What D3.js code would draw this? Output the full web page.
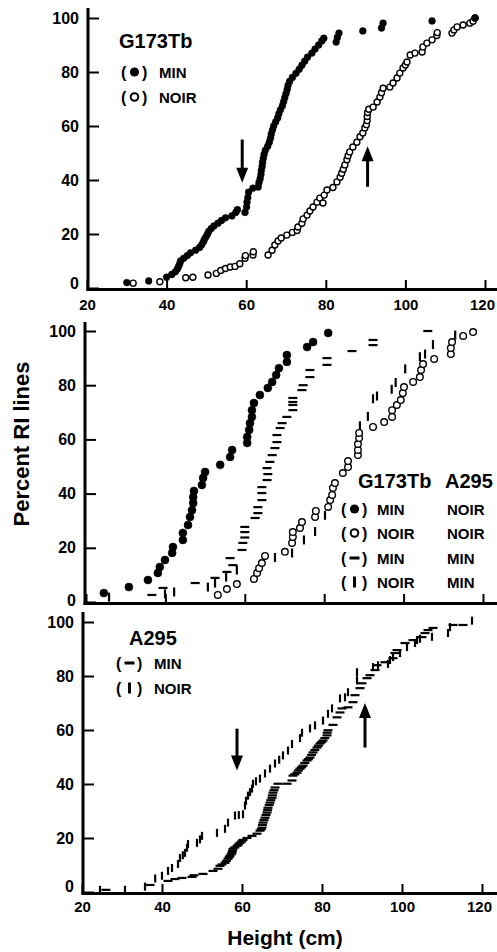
<!DOCTYPE html>
<html>
<head>
<meta charset="utf-8">
<script src="https://cdn.jsdelivr.net/npm/d3@7"></script>
<style>
  body { margin: 0; background: #fff; }
  text { font-family: "Liberation Sans", Arial, Helvetica, sans-serif; font-weight: bold; fill: #000; }
</style>
</head>
<body>
<script>
// tick values
var xTicks = [20, 40, 60, 80, 100, 120];
var yTicks = [0, 20, 40, 60, 80, 100];

// top panel: G173Tb, [height cm, percent RI lines]
var p1Min = [[30,2],[35.5,2.6],[40,4],[41.3,5],[42.2,6],[42.7,7],[43,8],[43.3,9],[43.5,10],[44.3,11],[45.2,12],[46,13],[47.3,14],[48.3,15],[48.8,16],[49.2,17],[49.5,18],[49.9,19],[50.3,20],[50.6,21],[51.2,22],[51.9,23],[52.9,24],[53.8,25],[54.8,26],[56.4,26.7],[57.4,28],[57.8,29],[59.7,28],[60.1,30],[60.2,31.8],[60.4,33.5],[60.6,35.5],[61.7,37],[63,37.4],[63.2,39],[63.5,40.5],[63.7,42],[63.8,43.5],[64,45],[64.1,46.5],[64.3,48],[64.5,49.5],[64.8,51],[65.4,52.5],[65.8,54],[66.1,55.5],[66.3,57],[66.6,58.5],[66.9,60],[67.4,61.5],[67.9,63],[68.2,64.5],[68.6,66],[69.1,67.5],[69.4,69],[69.7,70.5],[70,72],[70.3,73.5],[70.5,75],[70.9,76.5],[71.6,78],[72.5,79.5],[73.3,81],[74,82.5],[74.7,84],[75.4,85.5],[76.5,87],[77.3,88.5],[78.2,90],[79,91.5],[79.5,92.5],[82.6,91.1],[82.9,92.8],[83.3,94.4],[89.3,95.2],[94,96.3],[94.4,98.1],[106.7,98.9],[117.5,100]];
var p1Noir = [[31.6,1.8],[38.3,2.3],[44.8,3.8],[46.6,4],[50.4,4.8],[52.5,5.4],[53.6,6.5],[54.8,7.2],[56,7.8],[57.2,8],[58.4,9],[59.7,11],[59.8,12],[61.7,12.2],[61.8,13.4],[65.5,12.2],[66.5,14],[67.2,15.9],[68,17.4],[68.8,18.5],[70.2,19.6],[71.6,20.6],[72.8,21.3],[73,22.6],[74,24],[74.3,25.6],[75.3,27],[76,28.5],[76.8,30],[77.8,31.8],[78.5,33.3],[79.3,31.5],[79.6,34.4],[80.3,36.3],[81.8,37.2],[82.8,39.3],[83.6,41],[84,42.5],[84.4,44],[84.8,45.6],[85.3,47.5],[85.6,49],[86,50.4],[86.8,52.2],[87.8,54],[88.6,56],[89.3,57.4],[89.8,59.3],[90.2,60.5],[90.4,62],[90.4,63.5],[90.5,65],[90.8,66.2],[91.9,67],[92.9,68.9],[93.6,70.7],[94,72.3],[94.4,74],[96.1,74.4],[96.9,75.9],[97.9,77.8],[98.6,79.6],[99.4,81.5],[100,82.6],[100.4,83.7],[101.2,86.3],[102.4,87],[104.2,87.4],[104.4,89.3],[105.4,90.7],[106.7,91.9],[107.9,93.5],[108,94.6],[111.7,94.4],[112.2,95.6],[113,96.7],[114.5,97.4],[116.2,98.1],[117,98.8],[117.5,100]];

// middle panel: genotype at G173Tb / A295
var p2MinNoir = [[24.5,3.3],[30.8,5.5],[35.6,8.1],[38.1,10.7],[38.6,12.9],[39.9,15.5],[41.7,18.1],[41.9,20.3],[44.4,22.9],[44.4,25.5],[45.7,28.4],[46.2,31.4],[46.7,33.9],[47,36.5],[47,38.7],[47.2,41],[49.2,43.2],[49.5,45.8],[50,48],[53.8,50.6],[56.3,53.5],[56.8,56.1],[60.6,58.7],[60.6,60.9],[61.1,63.5],[61.3,66],[61.8,68.3],[61.8,70.8],[62.3,73.4],[63.8,76.4],[65.8,79],[66.9,81.2],[67.9,83.8],[68.6,86.3],[70.6,88.6],[70.6,91.1],[75.7,94.1],[77.2,95.9],[81,99.3]];
var p2NoirNoir = [[53.2,2.6],[55.5,4.8],[58,6.6],[62.3,8.5],[63.1,10.7],[63.6,12.5],[64.3,14.4],[65.1,17],[70.1,18.5],[71.9,21.8],[72.1,24],[72.1,25.8],[73.9,27.3],[74.4,29.5],[77.7,31.4],[77.9,33.6],[81,35.1],[81.5,37.6],[82,39.5],[82.2,42.1],[82.7,43.9],[84.7,47.6],[86,49.8],[86,52],[88.5,54.2],[88.5,56.1],[88.5,58.3],[88.8,60.5],[88.8,62.4],[92.3,64.6],[95.1,66.4],[97.1,68.3],[97.1,70.8],[98.3,72.7],[99.3,74.5],[99.8,77.1],[100.1,79.3],[102.4,81.2],[104.1,83],[104.4,85.6],[104.9,87.8],[107.7,89.7],[111.9,91.5],[111.9,93.7],[112.2,95.9],[115,98.2],[117.5,99.6]];
var p2MinMin = [[36.6,2.6],[39.4,5.2],[47.5,7],[52.5,8.9],[55.5,11.1],[57,13.6],[56.3,16.2],[59.3,19.2],[59.5,21.8],[60,23.8],[60,25.8],[60,27.7],[62.6,31],[63.3,32.8],[63.3,35],[64.3,37.6],[64.3,40.2],[64.3,42.4],[65.6,45],[65.8,47.2],[65.6,49.4],[66.3,51.7],[66.9,54.2],[67.6,56.8],[68.1,59],[68.1,61.6],[68.9,64.2],[69.4,66],[70.6,68.3],[72.1,70.8],[72.1,72.7],[72.1,73.8],[72.1,75.3],[74.4,78.2],[74.7,80],[76.4,83],[76.4,85.6],[80.7,87.5],[80.7,90],[87,92.6],[92.3,94.8],[92.3,96.7],[106.1,100]];
var p2NoirMin = [[25.8,1.8],[39.9,3],[42.2,3.7],[50.7,5.5],[52.5,7],[55.3,9.2],[58,11.8],[67.6,16.4],[71.9,18.1],[74.9,22.9],[77.7,26],[80.2,32],[88.8,62],[89,65],[91,68.5],[92.3,75],[93.3,76],[97,78.5],[98,81],[100.4,86],[104.1,90.5],[105.4,91.5],[107.4,95],[113,98.5]];

// bottom panel: A295
var p3Min = [[26,0.8],[37,2.6],[41.5,4.1],[43.25,4.8],[45,5.2],[47.5,5.6],[48,6.2],[50.25,6.7],[52.75,7.8],[54,8.6],[54.5,9.7],[55,10.2],[55.75,10.8],[56.1,11.5],[56.5,12.3],[56.8,12.9],[57,13.4],[57.3,14],[57.5,14.5],[57.6,15.2],[57.75,16],[58.2,16.5],[58.75,17.1],[59.1,17.6],[59.5,18.2],[59.9,18.7],[60.25,19.3],[61.25,20],[62.5,20.8],[63.75,21.6],[64.5,22.7],[64.8,23.2],[65,23.8],[65.1,24.8],[65.25,25.7],[65.5,26.6],[65.75,27.5],[66,28.5],[66.25,29.4],[66.4,30.3],[66.5,31.2],[66.8,32.2],[67,33.1],[67.2,34],[67.5,34.9],[67.6,35.8],[67.75,36.8],[68,37.7],[68.25,38.7],[69,40.1],[71.25,40.1],[72.5,41.3],[72.75,43.1],[73.2,43.6],[73.75,44.2],[74.1,45],[74.5,45.7],[74.9,46.2],[75.25,46.8],[75.7,47.8],[76.25,48.7],[76.6,49.2],[77,49.8],[77.4,50.8],[77.75,51.7],[78.2,52.6],[78.75,53.5],[79.1,54.2],[79.5,55],[79.9,55.5],[80.25,56.1],[80.7,57],[81.25,58],[81.3,59],[81.5,59.9],[82.75,61.9],[83.75,64.7],[84.5,66.5],[85,68],[86.5,68.4],[87.75,70.3],[88.25,72.9],[89.5,75.5],[90,77.3],[91.25,79.2],[92,80.3],[93.25,82.2],[93.75,84],[95.75,85.1],[97.75,86.6],[98.25,88.5],[98.75,89.6],[100.75,92.2],[102.75,93.3],[105,94.4],[105.75,95.9],[106.5,97],[107.75,97.8],[112.75,98.9],[115.25,98.9]];
var p3Noir = [[24.5,0.8],[30.75,0.8],[35.75,2],[38.3,5],[40,6],[41.5,7.8],[42.5,8.9],[44,10.4],[44.5,12.6],[45.2,13.6],[45.75,14.5],[46.25,16.4],[46.5,17.8],[48.75,18.2],[49.5,19.5],[50,20.8],[53.75,21.9],[55.75,23.4],[56.5,25.7],[58.25,28.3],[59.2,28.5],[60.25,28.8],[60.75,32],[61,33.8],[61.5,35.7],[62,37],[62.5,38.3],[62.75,40.1],[63.5,41],[64.5,42],[65.75,43.9],[67,45.7],[68.25,47.6],[69.3,49],[70.25,50.6],[71.5,52.4],[72.5,54.8],[74.5,57],[75,59],[77,60.6],[78.25,61.7],[80.25,63.5],[81.5,66],[82.5,68],[84.5,71.7],[85.75,72.1],[86.5,74],[88.75,78.4],[88.75,81.4],[92.75,83.3],[94,84],[96.5,84.5],[97,85.9],[97.75,87],[99.5,88.5],[101.25,90.7],[103.25,92.2],[103.75,93.3],[104.5,93.8],[107.5,94.5],[111.5,95.9],[112,98.1],[117.5,100.5]];

// arrows: [height, tail %, tip %]
var p1Arrows = [[59, 55, 39], [90.5, 37.5, 52.5]];
var p3Arrows = [[58.75, 60.5, 45], [90.75, 53.5, 70]];

var W = 497, H = 952;
var svg = d3.select("body").append("svg").attr("width", W).attr("height", H);

function panel(o) {
  var x = d3.scaleLinear().domain([20, 120]).range(o.xr);
  var y = d3.scaleLinear().domain([0, 100]).range(o.yr);
  var g = svg.append("g");

  var ax = g.append("g")
    .attr("transform", "translate(0," + (y(0) + 1) + ")")
    .call(d3.axisBottom(x).tickValues(xTicks).tickSizeInner(-9).tickSizeOuter(0).tickPadding(o.xpad || 10));
  ax.select(".domain").remove();
  ax.selectAll("line").attr("stroke", "#000").attr("stroke-width", 2);
  ax.selectAll("text").style("font-size", "15px")
    .attr("dx", function(d) { return d === 120 ? "-3px" : 0; });
  if (!o.xLabels) ax.selectAll("text").remove();

  var ay = g.append("g")
    .attr("transform", "translate(" + o.yaxis + ",0)")
    .call(d3.axisLeft(y).tickValues(yTicks).tickSizeInner(-11).tickSizeOuter(0).tickPadding(9));
  ay.select(".domain").remove();
  ay.selectAll("line").attr("stroke", "#000").attr("stroke-width", 2);
  ay.selectAll("text").style("font-size", "16px")
    .attr("dy", function(d) { return d === 0 ? (0.32 * 16 + o.zero) + "px" : "0.32em"; });

  // axis lines
  g.append("line").attr("x1", o.yaxis).attr("x2", o.yaxis)
    .attr("y1", o.top).attr("y2", y(0) + 3)
    .attr("stroke", "#000").attr("stroke-width", 3);
  g.append("line").attr("x1", o.yaxis - 1.5).attr("x2", W)
    .attr("y1", y(0) + 1.5).attr("y2", y(0) + 1.5)
    .attr("stroke", "#000").attr("stroke-width", 3);

  return { x: x, y: y, g: g };
}

function dots(p, data, r, filled) {
  p.g.append("g").selectAll("circle").data(data).enter().append("circle")
    .attr("cx", function(d) { return p.x(d[0]); })
    .attr("cy", function(d) { return p.y(d[1]); })
    .attr("r", r)
    .attr("fill", filled ? "#000" : "#fff")
    .attr("stroke", "#000")
    .attr("stroke-width", filled ? 0.5 : 1.4);
}

function dashes(p, data, w) {
  p.g.append("g").selectAll("line").data(data).enter().append("line")
    .attr("x1", function(d) { return p.x(d[0]) - w / 2; })
    .attr("x2", function(d) { return p.x(d[0]) + w / 2; })
    .attr("y1", function(d) { return p.y(d[1]); })
    .attr("y2", function(d) { return p.y(d[1]); })
    .attr("stroke", "#000").attr("stroke-width", 2.2);
}

function bars(p, data, h) {
  p.g.append("g").selectAll("line").data(data).enter().append("line")
    .attr("x1", function(d) { return p.x(d[0]); })
    .attr("x2", function(d) { return p.x(d[0]); })
    .attr("y1", function(d) { return p.y(d[1]) - h / 2; })
    .attr("y2", function(d) { return p.y(d[1]) + h / 2; })
    .attr("stroke", "#000").attr("stroke-width", 2.2);
}

function arrows(p, data) {
  data.forEach(function(a) {
    var cx = p.x(a[0]), y0 = p.y(a[1]), y1 = p.y(a[2]);
    var dir = y1 > y0 ? 1 : -1, hl = 15, hw = 6;
    p.g.append("line").attr("x1", cx).attr("x2", cx)
      .attr("y1", y0).attr("y2", y1 - dir * (hl - 2))
      .attr("stroke", "#000").attr("stroke-width", 3);
    p.g.append("path")
      .attr("d", "M" + cx + "," + y1 + "L" + (cx - hw) + "," + (y1 - dir * hl) + "L" + (cx + hw) + "," + (y1 - dir * hl) + "Z")
      .attr("fill", "#000");
  });
}

// legend marker kinds
function marker(g, kind, cx, cy) {
  if (kind === "dot") g.append("circle").attr("cx", cx).attr("cy", cy).attr("r", 4.6).attr("fill", "#000");
  if (kind === "ring") g.append("circle").attr("cx", cx).attr("cy", cy).attr("r", 3.8).attr("fill", "#fff").attr("stroke", "#000").attr("stroke-width", 2);
  if (kind === "dash") g.append("line").attr("x1", cx - 5).attr("x2", cx + 5).attr("y1", cy).attr("y2", cy).attr("stroke", "#000").attr("stroke-width", 3);
  if (kind === "bar") g.append("line").attr("x1", cx).attr("x2", cx).attr("y1", cy - 5.5).attr("y2", cy + 5.5).attr("stroke", "#000").attr("stroke-width", 3);
}

function legendRow(g, x0, cy, kind, labels, cols) {
  g.append("text").attr("x", x0).attr("y", cy + 5.5).style("font-size", "16px").text("(");
  marker(g, kind, x0 + 13.5, cy);
  g.append("text").attr("x", x0 + 21).attr("y", cy + 5.5).style("font-size", "16px").text(")");
  labels.forEach(function(t, i) {
    g.append("text").attr("x", cols[i]).attr("y", cy + 5.5).style("font-size", "15px").text(t);
  });
}

// ---- top panel
var p1 = panel({ xr: [87, 485], yr: [288, 18], yaxis: 88, top: 8, xLabels: true, xpad: 10, zero: -5 });
dots(p1, p1Noir, 3, false);
dots(p1, p1Min, 3.4, true);
arrows(p1, p1Arrows);
p1.g.append("text").attr("x", 119).attr("y", 48).style("font-size", "20px").text("G173Tb");
legendRow(p1.g, 121, 72, "dot", ["MIN"], [159]);
legendRow(p1.g, 121, 97, "ring", ["NOIR"], [159]);

// ---- middle panel
var p2 = panel({ xr: [86, 483], yr: [602, 331], yaxis: 85, top: 322, xLabels: false, zero: -2 });
dashes(p2, p2MinMin, 9);
bars(p2, p2NoirMin, 9);
dots(p2, p2NoirNoir, 3.3, false);
dots(p2, p2MinNoir, 4, true);
p2.g.append("text").attr("x", 358).attr("y", 488).style("font-size", "20px").text("G173Tb");
p2.g.append("text").attr("x", 445).attr("y", 488).style("font-size", "20px").text("A295");
legendRow(p2.g, 341, 509, "dot", ["MIN", "NOIR"], [377, 447]);
legendRow(p2.g, 341, 533, "ring", ["NOIR", "NOIR"], [377, 447]);
legendRow(p2.g, 341, 558, "dash", ["MIN", "MIN"], [377, 447]);
legendRow(p2.g, 341, 582, "bar", ["NOIR", "MIN"], [377, 447]);

// ---- bottom panel
var p3 = panel({ xr: [82, 482], yr: [892, 622], yaxis: 83, top: 612, xLabels: true, xpad: 8, zero: -6 });
dashes(p3, p3Min, 9);
bars(p3, p3Noir, 8);
arrows(p3, p3Arrows);
p3.g.append("text").attr("x", 129).attr("y", 645).style("font-size", "20px").text("A295");
legendRow(p3.g, 116, 663, "dash", ["MIN"], [154]);
legendRow(p3.g, 116, 688, "bar", ["NOIR"], [154]);

// axis titles
svg.append("text")
  .attr("transform", "translate(29,444) rotate(-90)")
  .attr("text-anchor", "middle")
  .style("font-size", "22px")
  .text("Percent RI lines");
svg.append("text")
  .attr("x", 285).attr("y", 945)
  .attr("text-anchor", "middle")
  .style("font-size", "21px")
  .text("Height (cm)");
</script>
</body>
</html>
